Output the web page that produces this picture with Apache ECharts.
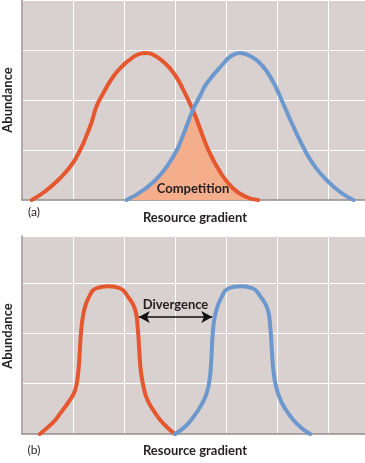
<!DOCTYPE html>
<html>
<head>
<meta charset="utf-8">
<script src="https://cdn.jsdelivr.net/npm/echarts@6/dist/echarts.min.js"></script>
<style>
html,body{margin:0;padding:0;background:#fff;}
#chart{width:365px;height:463px;}
</style>
</head>
<body>
<div id="chart"></div>
<script>
// Panel (a): overlapping niches
const redTop = [[0.19,0],[0.45,0.17],[0.71,0.4],[0.97,0.7],[1.14,1.0],[1.27,1.3],[1.37,1.57],[1.46,1.87],[1.59,2.13],[1.79,2.47],[1.99,2.7],[2.12,2.81],[2.25,2.9],[2.41,2.94],[2.6,2.89],[2.84,2.7],[3.0,2.5],[3.13,2.27],[3.35,1.8],[3.49,1.43],[3.65,1.01],[3.88,0.57],[4.14,0.23],[4.4,0.06],[4.63,0]];
const blueTop = [[2.05,0],[2.38,0.2],[2.71,0.5],[3.0,0.93],[3.16,1.3],[3.35,1.8],[3.5,2.1],[3.62,2.33],[3.95,2.73],[4.1,2.88],[4.27,2.94],[4.45,2.89],[4.63,2.77],[4.8,2.57],[4.97,2.27],[5.12,1.93],[5.32,1.47],[5.58,0.93],[5.75,0.66],[5.97,0.4],[6.25,0.15],[6.5,0]];
const crossX = 3.35;
// Panel (b): divergent niches
const redBottom = [[0.35,0],[0.6,0.22],[0.75,0.41],[0.94,0.68],[1.04,0.87],[1.1,1.2],[1.13,1.6],[1.16,2.05],[1.21,2.42],[1.3,2.7],[1.46,2.9],[1.69,2.94],[1.92,2.9],[2.08,2.73],[2.22,2.47],[2.27,2.1],[2.3,1.65],[2.33,1.25],[2.38,0.95],[2.45,0.7],[2.57,0.48],[2.71,0.28],[2.87,0.11],[3.0,0]];
const blueBottom = [[3.0,0],[3.2,0.15],[3.36,0.34],[3.5,0.55],[3.62,0.81],[3.68,1.1],[3.71,1.45],[3.74,2.0],[3.79,2.38],[3.9,2.7],[4.06,2.9],[4.29,2.94],[4.52,2.9],[4.68,2.73],[4.82,2.47],[4.87,2.1],[4.9,1.65],[4.93,1.25],[4.98,0.95],[5.05,0.72],[5.15,0.52],[5.32,0.28],[5.48,0.12],[5.65,0]];
const divergenceArrow = [[2.29,2.33],[3.73,2.33]];
const labels = {panelA:'(a)', panelB:'(b)', x:'Resource gradient', y:'Abundance', competition:'Competition', divergence:'Divergence'};

const RED = '#e5572e', BLUE = '#6c98cd', FILL = '#f5ae8b', BG = '#d9d1d0', AXIS = '#958c8c', TXT = '#231f20';
const FONT = 'Lato';

const chart = echarts.init(document.getElementById('chart'), null, {renderer:'canvas'});

function xAx(gi){
  return {type:'value', gridIndex:gi, min:0, max:6.725, interval:1,
    axisLine:{show:true, onZero:false, lineStyle:{color:AXIS, width:1.5}},
    axisTick:{show:false}, axisLabel:{show:false},
    splitLine:{show:true, lineStyle:{color:'#ffffff', width:1}}};
}
function yAx(gi, max){
  return {type:'value', gridIndex:gi, min:0, max:max, interval:1,
    axisLine:{show:true, lineStyle:{color:AXIS, width:1.5}},
    axisTick:{show:false}, axisLabel:{show:false},
    splitLine:{show:true, lineStyle:{color:'#ffffff', width:1}}};
}
function curve(data, color, gi){
  return {type:'line', xAxisIndex:gi, yAxisIndex:gi, data:data, smooth:0.5, symbol:'none',
    lineStyle:{color:color, width:4, cap:'round', join:'round'}, z:5, silent:true};
}
function fill(data, gi){
  return {type:'line', xAxisIndex:gi, yAxisIndex:gi, data:data, smooth:0.5, symbol:'none',
    lineStyle:{width:0}, areaStyle:{color:FILL, opacity:1}, z:3, silent:true};
}

const blueFill = blueTop.filter(p => p[0] <= crossX);
const redFill = redTop.filter(p => p[0] >= crossX);

const txt = (text, x, y, opts) => ({type:'text', x:x, y:y, z:50, style:Object.assign({text:text, fill:TXT, font:'bold 13px '+FONT, textAlign:'center', textVerticalAlign:'middle'}, opts||{})});

const bottomBlue = curve(blueBottom, BLUE, 1);
bottomBlue.markLine = {
  silent:true, animation:false, symbol:['arrow','arrow'], symbolSize:[9,11],
  lineStyle:{color:'#111', width:1.5, type:'solid'},
  label:{show:true, formatter:labels.divergence, position:'insideMiddleTop', distance:6, color:TXT, fontFamily:FONT, fontWeight:'bold', fontSize:13},
  data:[[{coord:divergenceArrow[0]},{coord:divergenceArrow[1]}]]
};

chart.setOption({
  animation:false,
  grid:[
    {left:22, top:0, width:343, height:200, show:true, backgroundColor:BG, borderWidth:0},
    {left:22, top:236, width:343, height:198, show:true, backgroundColor:BG, borderWidth:0}
  ],
  xAxis:[xAx(0), xAx(1)],
  yAxis:[yAx(0,4), yAx(1,3.94)],
  series:[
    fill(blueFill, 0), fill(redFill, 0),
    curve(redTop, RED, 0), curve(blueTop, BLUE, 0),
    curve(redBottom, RED, 1), bottomBlue
  ],
  graphic:[
    {type:'text', x:8, y:100, rotation:Math.PI/2, z:50, style:{text:labels.y, fill:TXT, font:'bold 13px '+FONT, textAlign:'center', textVerticalAlign:'middle'}},
    {type:'text', x:8, y:336, rotation:Math.PI/2, z:50, style:{text:labels.y, fill:TXT, font:'bold 13px '+FONT, textAlign:'center', textVerticalAlign:'middle'}},
    txt(labels.panelA, 34, 212, {font:'12px '+FONT}),
    txt(labels.panelB, 34, 450, {font:'12px '+FONT}),
    txt(labels.x, 195, 218),
    txt(labels.x, 195, 451),
    txt(labels.competition, 193, 189)
  ]
});
</script>
</body>
</html>
